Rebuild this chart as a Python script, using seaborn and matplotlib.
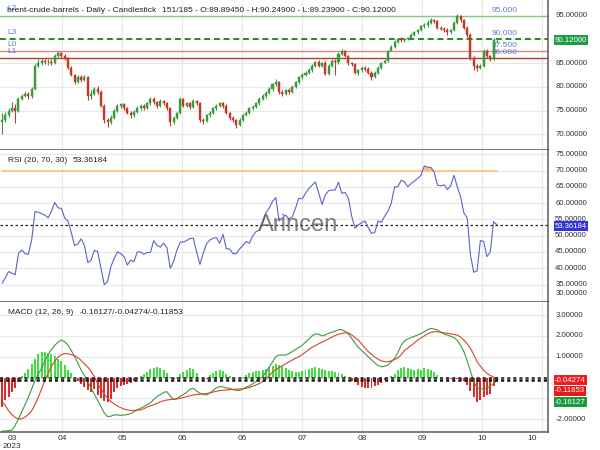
import matplotlib
matplotlib.use("Agg")
import numpy as np
import pandas as pd
import matplotlib.pyplot as plt
from matplotlib.patches import Rectangle
import seaborn as sns

# ---------------- data ----------------
opens = [72.5, 73, 74, 75, 75.5, 75, 77.5, 78, 78.5, 78,
         79.5, 84.5, 85, 85.5, 85.2, 85.3, 85, 86.5, 87.2, 86.5,
         86, 84, 82.5, 81, 82, 81.5, 82, 78, 78.5, 79.5,
         79, 76, 73, 72.5, 73.5, 75, 76, 76.3, 75.5, 74.5,
         74, 74.8, 75.5, 76, 75.5, 76.5, 77.5, 76.8, 76, 77,
         76.5, 75.5, 72.5, 73.5, 74.5, 77.5, 76, 76.5, 75.8, 77,
         76.5, 73, 72.8, 74, 74.5, 75.5, 76, 76.5, 76, 74.5,
         73.5, 73, 72, 73, 74, 74.5, 75.5, 75.8, 76.5, 77.5,
         78, 78.8, 79.5, 80.5, 81, 79, 78.5, 79.3, 79, 80,
         81, 82, 82.5, 83, 83.5, 84.5, 85.2, 84.5, 85, 82.8,
         84.5, 85.5, 85.2, 87, 87.5, 86.5, 85, 84.8, 83, 83.5,
         84, 83.8, 83, 82, 83, 84, 85, 85.5, 87.5, 88.5,
         89.5, 90, 89.8, 90, 90.3, 91, 91.5, 92, 92.8, 93,
         93.5, 94, 93.8, 92.5, 92.3, 92, 91.5, 92, 93.5, 95,
         94, 92.5, 91, 86, 84.5, 84, 84.3, 87.5, 86.5, 85.8,
         89.8945]
closes = [73, 74, 75, 75.5, 75, 77.5, 78, 78.5, 78, 79.5,
          84.5, 85, 85.5, 85.2, 85.3, 85, 86.5, 87.2, 86.5, 86,
          84, 82.5, 81, 82, 81.5, 82, 78, 78.5, 79.5, 79,
          76, 73, 72.5, 73.5, 75, 76, 76.3, 75.5, 74.5, 74,
          74.8, 75.5, 76, 75.5, 76.5, 77.5, 76.8, 76, 77, 76.5,
          75.5, 72.5, 73.5, 74.5, 77.5, 76, 76.5, 75.8, 77, 76.5,
          73, 72.8, 74, 74.5, 75.5, 76, 76.5, 76, 74.5, 73.5,
          73, 72, 73, 74, 74.5, 75.5, 75.8, 76.5, 77.5, 78,
          78.8, 79.5, 80.5, 81, 79, 78.5, 79.3, 79, 80, 81,
          82, 82.5, 83, 83.5, 84.5, 85.2, 84.5, 85, 82.8, 84.5,
          85.5, 85.2, 87, 87.5, 86.5, 85, 84.8, 83, 83.5, 84,
          83.8, 83, 82, 83, 84, 85, 85.5, 87.5, 88.5, 89.5,
          90, 89.8, 90, 90.3, 91, 91.5, 92, 92.8, 93, 93.5,
          94, 93.8, 92.5, 92.3, 92, 91.5, 92, 93.5, 95, 94,
          92.5, 91, 86, 84.5, 84, 84.3, 87.5, 86.5, 85.8, 89.9,
          90.12]
highs = [74.5, 74.6, 75.6, 76.8, 76.3, 77.9, 78.6, 79.2, 78.9, 80,
         84.9, 85.9, 86.1, 85.9, 85.8, 85.8, 87, 87.6, 87.4, 86.9,
         86.3, 84.3, 82.8, 82.5, 82.4, 82.4, 82.3, 79.4, 79.9, 80.2,
         79.3, 76.4, 73.5, 74, 75.3, 76.4, 76.7, 76.6, 75.8, 74.9,
         75.2, 75.9, 76.4, 76.3, 76.9, 77.9, 77.8, 77.1, 77.4, 77.3,
         76.8, 75.8, 73.9, 74.8, 77.9, 77.7, 76.9, 76.8, 77.4, 77.3,
         76.8, 73.4, 74.3, 74.9, 75.8, 76.3, 76.9, 76.8, 76.3, 74.8,
         73.8, 73.3, 73.4, 74.3, 74.9, 75.8, 76.2, 76.8, 77.8, 78.4,
         79.1, 79.9, 80.8, 81.6, 81.3, 79.4, 79.6, 79.7, 80.3, 81.3,
         82.3, 82.9, 83.3, 83.9, 84.8, 85.5, 85.6, 85.3, 85.4, 84.8,
         85.8, 85.9, 87.3, 88, 87.7, 86.8, 85.3, 85.1, 83.8, 84.4,
         84.3, 84.1, 83.3, 83.4, 84.3, 85.3, 85.9, 87.8, 88.9, 89.9,
         90.4, 90.5, 90.3, 90.6, 91.3, 91.8, 92.3, 93.1, 93.5, 94,
         94.5, 94.3, 94, 92.8, 92.7, 92.4, 92.3, 93.8, 95.4, 95.2,
         94.3, 92.8, 91.3, 86.4, 84.9, 84.8, 87.9, 87.9, 86.8, 90.2,
         90.249]
lows = [70, 72.6, 73.7, 74.6, 72.4, 74.8, 77.3, 77.8, 77.4, 77.6,
        79.3, 84.1, 84.7, 84.8, 84.7, 84.6, 84.8, 86.2, 86.1, 85.6,
        83.7, 82.2, 80.7, 80.8, 81.1, 81.2, 77.3, 77.5, 78.2, 78.6,
        75.7, 72.4, 71.5, 72.1, 73.2, 74.8, 75.6, 75.2, 74.2, 73.5,
        73.6, 74.5, 75.2, 75.1, 75.3, 76.2, 76.4, 75.6, 75.8, 76.1,
        75.2, 71.8, 72.2, 73.2, 74.3, 75.7, 75.7, 75.4, 75.6, 76.1,
        72.6, 72.2, 72.5, 73.7, 74.2, 75.2, 75.7, 75.6, 74.2, 73.1,
        72.5, 71.4, 71.8, 72.7, 73.8, 74.2, 75.2, 75.5, 76.2, 77.2,
        77.7, 78.5, 79.2, 80.2, 78.6, 78.1, 78.2, 78.6, 78.8, 79.7,
        80.7, 81.7, 82.2, 82.8, 83.2, 84.2, 84.1, 84.2, 82.4, 82.6,
        84.2, 82.5, 84.9, 86.7, 86.2, 84.7, 84.4, 82.7, 82.6, 83.2,
        83.4, 82.7, 81.5, 81.8, 82.8, 83.8, 85.1, 85.2, 87.9, 88.2,
        89.2, 89.4, 89.5, 89.8, 90.1, 90.7, 91.2, 91.8, 92.5, 92.7,
        93.2, 93.4, 92.2, 91.9, 91.6, 91, 91.2, 91.8, 93.3, 93.7,
        92.2, 90.6, 85.7, 83.6, 83.3, 83.8, 84.1, 86.1, 85.4, 85.6,
        89.239]
rsi = [35.4, 37, 39, 38.5, 38, 44.6, 45.6, 44.5, 44.3, 48.7,
       57.4, 57.2, 56.8, 56.3, 55.5, 57.5, 60.2, 58.5, 58.4, 55.5,
       54.5, 51, 47, 47.5, 49, 47, 41.8, 42.5, 45.5, 45.1,
       40, 35, 35.9, 40.5, 43, 45.1, 44.5, 43.6, 41, 42.5,
       42, 45, 45, 44.3, 44.8, 44.9, 48.5, 47, 46.5, 47.7,
       46.3, 40, 42, 45.5, 48, 48.1, 48.5, 49.2, 49.2, 45,
       41.2, 44.6, 47.5, 48.7, 49.2, 49.4, 47.7, 50.4, 46, 45.9,
       44.5, 44.5, 45.9, 47, 48.2, 47.7, 50, 51.2, 51.7, 54,
       57, 58.5, 60.5, 61.7, 54.5, 55.5, 56.3, 55.1, 55.8, 58.5,
       61.5, 61.3, 63, 64.5, 65.5, 66.5, 63, 59.6, 62.5, 63.8,
       64, 64, 66.4, 63, 63.3, 61.5, 56, 52.3, 53.3, 54,
       54.5, 52.5, 50.7, 51, 54.5, 54.1, 56, 57.5, 60, 65,
       65, 67, 66.5, 65, 66, 66.8, 67.6, 68.5, 71.4, 71,
       71, 69.5, 65.5, 65.3, 65.6, 64.2, 65.3, 68.5, 65, 62,
       57, 55.5, 44, 38.8, 39.2, 48.5, 48.2, 43.6, 45, 54.3,
       53.36184]
macd_line = [-2.58, -2.57, -2.55, -2.52, -2.3, -2.0, -1.65, -1.3, -0.95, -0.55,
             -0.15, 0.15, 0.45, 0.8, 1.1, 1.35, 1.55, 1.7, 1.8, 1.72,
             1.56, 1.3, 1.0, 0.7, 0.35, 0.1, -0.2, -0.5, -0.8, -1.1,
             -1.4, -1.7, -1.88, -1.86, -1.8, -1.8, -1.82, -1.8, -1.78, -1.73,
             -1.65, -1.55, -1.48, -1.4, -1.3, -1.22, -1.05, -0.92, -0.82, -0.72,
             -0.68, -0.9, -1.05, -1.02, -0.9, -0.82, -0.7, -0.56, -0.52, -0.65,
             -0.76, -0.82, -0.84, -0.75, -0.62, -0.5, -0.44, -0.45, -0.5, -0.52,
             -0.58, -0.62, -0.62, -0.55, -0.46, -0.4, -0.3, -0.2, -0.08, 0.04,
             0.25, 0.5, 0.75, 1.0, 1.08, 1.08, 1.08, 1.15, 1.25, 1.35,
             1.45, 1.55, 1.7, 1.85, 2.0, 2.1, 2.08, 2.0, 2.05, 2.12,
             2.18, 2.22, 2.3, 2.3, 2.22, 2.1, 1.88, 1.65, 1.46, 1.3,
             1.15, 1.0, 0.85, 0.7, 0.58, 0.52, 0.54, 0.6, 0.75, 0.92,
             1.2, 1.55, 1.76, 1.85, 1.92, 1.98, 2.05, 2.11, 2.2, 2.3,
             2.36, 2.33, 2.28, 2.18, 2.08, 2.04, 1.98, 1.92, 1.78, 1.55,
             1.25, 0.8, 0.3, -0.2, -0.5, -0.55, -0.55, -0.5, -0.42, -0.28,
             -0.16127]
signal_line = [-1.15, -1.35, -1.6, -1.78, -1.92, -2.0, -1.98, -1.9, -1.78, -1.6,
               -1.3, -0.95, -0.55, -0.15, 0.2, 0.55, 0.78, 0.98, 1.1, 1.15,
               1.14, 1.1, 1.05, 0.95, 0.82, 0.65, 0.5, 0.3, 0.05, -0.3,
               -0.55, -0.8, -1.0, -1.15, -1.27, -1.37, -1.45, -1.52, -1.56, -1.58,
               -1.58, -1.57, -1.56, -1.5, -1.42, -1.36, -1.31, -1.24, -1.17, -1.12,
               -1.08, -1.06, -1.05, -1.03, -1.0, -0.96, -0.92, -0.88, -0.84, -0.82,
               -0.8, -0.79, -0.77, -0.74, -0.7, -0.66, -0.63, -0.61, -0.6, -0.58,
               -0.57, -0.56, -0.55, -0.54, -0.52, -0.48, -0.42, -0.36, -0.29, -0.2,
               -0.08, 0.08, 0.26, 0.38, 0.48, 0.57, 0.66, 0.75, 0.84, 0.93,
               1.0, 1.1, 1.22, 1.34, 1.45, 1.54, 1.62, 1.7, 1.78, 1.86,
               1.94, 2.02, 2.08, 2.12, 2.15, 2.14, 2.05, 1.92, 1.8, 1.62,
               1.42, 1.25, 1.12, 0.98, 0.88, 0.8, 0.76, 0.76, 0.8, 0.86,
               0.95, 1.1, 1.3, 1.42, 1.54, 1.66, 1.8, 1.9, 2.0, 2.1,
               2.17, 2.2, 2.2, 2.18, 2.15, 2.12, 2.1, 2.07, 2.04, 1.95,
               1.8, 1.62, 1.4, 1.1, 0.76, 0.55, 0.35, 0.2, 0.1, 0.02,
               -0.04274]
hist = [-1.4, -1.08, -0.92, -0.68, -0.52, -0.2, 0.05, 0.2, 0.4, 0.65,
        0.9, 1.15, 1.24, 1.24, 1.2, 1.14, 1.05, 0.9, 0.8, 0.6,
        0.38, 0.2, -0.02, -0.15, -0.3, -0.45, -0.62, -0.68, -0.55, -0.82,
        -0.97, -1.12, -1.2, -1.05, -0.68, -0.5, -0.4, -0.34, -0.3, -0.25,
        -0.18, -0.05, 0.06, 0.15, 0.28, 0.4, 0.47, 0.5, 0.47, 0.38,
        0.2, 0.02, -0.05, 0.04, 0.15, 0.28, 0.38, 0.44, 0.4, 0.2,
        -0.04, -0.06, -0.05, 0.12, 0.22, 0.3, 0.35, 0.3, 0.18, 0.05,
        -0.02, -0.04, -0.03, 0.03, 0.1, 0.2, 0.26, 0.3, 0.33, 0.36,
        0.43, 0.5, 0.56, 0.63, 0.6, 0.53, 0.44, 0.38, 0.3, 0.26,
        0.28, 0.3, 0.38, 0.42, 0.45, 0.5, 0.48, 0.4, 0.34, 0.31,
        0.3, 0.27, 0.22, 0.15, 0.06, -0.04, -0.15, -0.22, -0.35, -0.45,
        -0.5, -0.52, -0.52, -0.42, -0.35, -0.26, -0.14, -0.04, 0.05, 0.15,
        0.35, 0.44, 0.5, 0.48, 0.42, 0.38, 0.4, 0.38, 0.45, 0.42,
        0.36, 0.28, 0.12, 0.02, -0.04, -0.06, -0.08, -0.1, -0.08, -0.1,
        -0.18, -0.38, -0.65, -0.95, -1.2, -1.08, -0.92, -0.86, -0.8, -0.42,
        -0.11853]

levels = [95.0, 90.0, 87.5, 86.0]
level_names = ["L2", "L3", "L0", "L1"]
level_texts = ["95.000", "90.000", "87.500", "86.000"]

# grid levels and the right-hand labels that are visible in the reference
price_grid = [95, 90, 85, 80, 75, 70, 65]
price_labels = [95, 85, 80, 75, 70, 65]
rsi_grid = [75, 70, 65, 60, 55, 50, 45, 40, 35, 30]
rsi_labels = [75, 70, 65, 60, 55, 50, 45, 40, 35, 30]
macd_grid = [4, 3, 2, 1, 0, -1, -2, -3]
macd_labels = [4, 3, 2, 1, -2, -3]
grid_x = [18.18, 36.36, 54.55, 72.73, 90.91, 109.09, 127.27, 145.45, 163.64]
xlab_pos = [3.0, 18.18, 36.36, 54.55, 72.73, 90.91, 109.09, 127.27, 145.45, 160.6]
xlab_txt = ["03", "04", "05", "06", "06", "07", "08", "09", "10", "10"]

title_main = "brent-crude-barrels - Daily - Candlestick"
title_ohlc = "151/185 - O:89.89450 - H:90.24900 - L:89.23900 - C:90.12000"

# ---------------- style ----------------
sns.set_theme(style="white")
plt.rcParams["font.family"] = ["Liberation Sans", "DejaVu Sans"]

W, H = 600, 450
def fx(px):
    return px / W
def fy(py):
    return 1 - py / H

fig = plt.figure(figsize=(6, 4.5), dpi=100)
fig.patch.set_facecolor("white")

n = len(closes)
df = pd.DataFrame({"i": np.arange(n), "o": opens, "h": highs, "l": lows, "c": closes,
                   "rsi": rsi, "macd": macd_line, "signal": signal_line, "hist": hist})

ax1 = fig.add_axes([0, fy(150), 548 / W, 150 / H])
ax2 = fig.add_axes([0, fy(302), 548 / W, 152 / H])
ax3 = fig.add_axes([0, fy(432), 548 / W, 130 / H])

XL = (-0.6, 165.5)
GRID = "#e9e9e9"
EDGE = "#5a5a5a"
for ax in (ax1, ax2, ax3):
    ax.set_xlim(*XL)
    ax.set_facecolor("white")
    ax.set_xticks([])
    ax.set_yticks([])
    for s in ("top", "left"):
        ax.spines[s].set_visible(False)
    for s in ("right", "bottom"):
        ax.spines[s].set_color(EDGE)
        ax.spines[s].set_linewidth(1.1)
    for gx in grid_x:
        ax.axvline(gx, color=GRID, lw=0.9, zorder=0)

ax1.set_ylim(66.69, 98.31)
ax2.set_ylim(29.66, 76.29)
ax3.set_ylim(-2.62, 3.63)

for v in price_grid:
    ax1.axhline(v, color=GRID, lw=0.9, zorder=0)
for v in rsi_grid:
    ax2.axhline(v, color=GRID, lw=0.9, zorder=0)
for v in macd_grid:
    ax3.axhline(v, color=GRID, lw=0.9, zorder=0)

# ---------------- price panel ----------------
UP, DN = "#3a9a3e", "#c23a2a"
col = np.where(df["c"] >= df["o"], UP, DN)
ax1.vlines(df["i"], df["l"], df["h"], colors=col, lw=0.8, zorder=3)
body = (df["c"] - df["o"]).abs().clip(lower=0.12)
ax1.bar(df["i"], body, bottom=np.minimum(df["o"], df["c"]), width=0.62,
        color=col, edgecolor=col, linewidth=0.3, zorder=4)

lvl_style = [dict(color="#7ccf7c", lw=1.0, ls="-"),
             dict(color="#1f8a2a", lw=1.4, ls=(0, (3, 2))),
             dict(color="#e3857a", lw=1.0, ls="-"),
             dict(color="#b0402c", lw=1.0, ls="-")]
LBL = "#5d80cf"
for v, nm, tx, st in zip(levels, level_names, level_texts, lvl_style):
    ax1.axhline(v, zorder=2, **st)
    ax1.annotate(nm, (0, v), xycoords=("axes fraction", "data"), xytext=(5, 2.5),
                 textcoords="offset points", fontsize=6, color=LBL, va="bottom", ha="left")
    ax1.annotate(tx, (148.5, v), xycoords="data", xytext=(0, 1.5),
                 textcoords="offset points", fontsize=6, color=LBL, va="bottom", ha="left")

fig.text(fx(7), fy(10), title_main, fontsize=6, color="#222222", va="center", ha="left")
fig.text(fx(161.5), fy(10), title_ohlc, fontsize=6, color="#222222", va="center", ha="left")

# ---------------- RSI panel ----------------
ax2.plot([df["i"].iloc[0], df["i"].iloc[-1]], [70, 70], color="#f6c77a", lw=1.2, zorder=2)
sns.lineplot(data=df, x="i", y="rsi", ax=ax2, color="#5a63c8", lw=0.8, zorder=3)
ax2.fill_between(df["i"], df["rsi"], 70, where=df["rsi"] > 70, interpolate=True,
                 color="#f6c26e", alpha=0.9, zorder=2, lw=0)
ax2.axhline(rsi[-1], color="#222222", lw=0.9, ls=(0, (2, 2)), zorder=2)
ax2.set_xlabel("")
ax2.set_ylabel("")
fig.text(fx(8), fy(161), "RSI (20, 70, 30)", fontsize=6, color="#222222", va="center", ha="left")
fig.text(fx(72.5), fy(161), f"{rsi[-1]:.5f}", fontsize=6, color="#222222", va="center", ha="left")
fig.text(fx(258), fy(225), "Arincen", fontsize=17, color="#555555", alpha=0.75,
         va="center", ha="left")

# ---------------- MACD panel ----------------
hcol = np.where(df["hist"] >= 0, "#3fe03f", "#e02b2b")
ax3.bar(df["i"], df["hist"], width=0.6, color=hcol, zorder=2, lw=0)
sns.lineplot(data=df, x="i", y="macd", ax=ax3, color="#3c9b3c", lw=0.8, zorder=3)
sns.lineplot(data=df, x="i", y="signal", ax=ax3, color="#d9442e", lw=0.8, zorder=3)
for v in (signal_line[-1], hist[-1], macd_line[-1]):
    ax3.axhline(v, color="#111111", lw=1.1, ls=(0, (2, 2)), zorder=4)
ax3.set_xlabel("")
ax3.set_ylabel("")
fig.text(fx(8), fy(312), "MACD (12, 26, 9)", fontsize=6, color="#222222", va="center", ha="left")
fig.text(fx(80), fy(312), f"{macd_line[-1]:.5f}/{signal_line[-1]:.5f}/{hist[-1]:.5f}",
         fontsize=6, color="#222222", va="center", ha="left")

# ---------------- right-side axis labels ----------------
def right_labels(ax, ticks, y0, y1, shift=None):
    clip = Rectangle((fx(549), fy(y1)), 1, (y1 - y0) / H, transform=fig.transFigure)
    for v in ticks:
        dy = 0 if shift is None else shift.get(v, 0)
        t = ax.annotate(f"{v:.5f}", (1.0, v), xycoords=("axes fraction", "data"),
                        xytext=(5.2, dy), textcoords="offset points", fontsize=5.6,
                        color="#333333", va="center", ha="left", annotation_clip=False)
        t.set_clip_on(True)
        t.set_clip_path(clip)

right_labels(ax1, price_labels, 0, 150)
right_labels(ax2, rsi_labels, 150, 302, shift={30: 5.0})
right_labels(ax3, macd_labels, 302, 432)

def box(px_y, txt, fc):
    fig.text(fx(555), fy(px_y), txt, fontsize=5.6, color="white", va="center", ha="left",
             bbox=dict(boxstyle="square,pad=0.15", fc=fc, ec="none"), zorder=10)

box(40, f"{closes[-1]:.5f}", "#1f9e45")
box(226, f"{rsi[-1]:.5f}", "#3434d6")
box(380, f"{signal_line[-1]:.5f}", "#ee1c1c")
box(391, f"{hist[-1]:.5f}", "#e31a1a")
box(402, f"{macd_line[-1]:.5f}", "#1e9a3e")

# ---------------- x labels ----------------
for p, t in zip(xlab_pos, xlab_txt):
    ax3.annotate(t, (p, 0), xycoords=("data", "axes fraction"), xytext=(0, -5),
                 textcoords="offset points", fontsize=6, color="#333333",
                 ha="center", va="center", annotation_clip=False)
ax3.annotate("2023", (xlab_pos[0], 0), xycoords=("data", "axes fraction"), xytext=(0, -10.5),
             textcoords="offset points", fontsize=6, color="#333333",
             ha="center", va="center", annotation_clip=False)

fig.savefig("out.png", dpi=100)
